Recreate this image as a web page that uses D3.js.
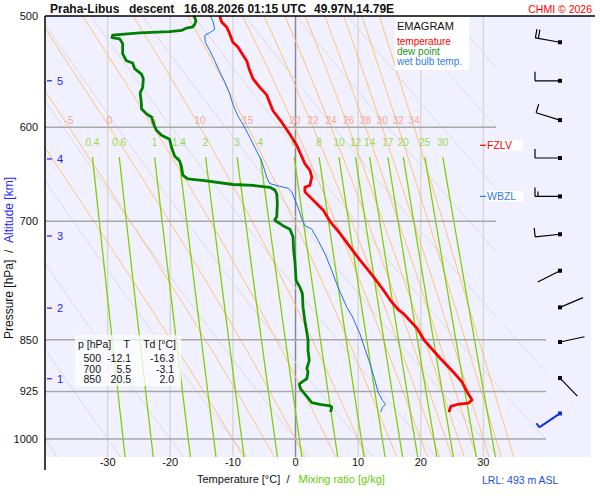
<!DOCTYPE html>
<html>
<head>
<meta charset="utf-8">
<script src="https://cdn.jsdelivr.net/npm/d3@7"></script>
<style>
    body { margin: 0; background: #fff; }
    svg { display: block; font-family: "Liberation Sans", Arial, sans-serif; }
</style>
</head>
<body>
<svg id="chart" width="600" height="500"></svg>
<script>

// Sounding : temperature [hPa, °C]
const tempP = [500, 505, 509, 515, 522, 526, 533, 538, 547, 554, 562, 569, 584, 595, 607, 618, 637, 644, 651, 660, 662, 667, 676, 687, 700, 714, 730, 746, 766, 783, 796, 809, 814, 834, 850, 876, 896, 911, 926, 938, 943, 945, 948, 957];
const tempT = [-12.1, -11.8, -11.0, -10.5, -10.0, -9.2, -8.4, -7.8, -7.3, -6.8, -5.7, -4.6, -3.6, -2.2, -0.9, 0.2, 1.5, 2.3, 2.6, 2.3, 1.5, 1.5, 2.8, 4.4, 5.5, 7.1, 8.7, 10.3, 12.4, 14.0, 15.1, 16.4, 17.2, 19.4, 20.5, 23.1, 25.2, 26.6, 27.4, 28.2, 27.6, 25.8, 24.8, 24.5];

// Sounding : dew point
const dewP = [500, 501, 504, 507, 509, 510, 512, 513, 514, 516, 518, 519, 523, 532, 538, 540, 545, 550, 554, 562, 567, 578, 582, 587, 590, 599, 603, 608, 612, 620, 629, 634, 640, 649, 653, 655, 659, 660, 662, 665, 669, 680, 695, 698, 700, 702, 705, 709, 718, 734, 747, 771, 780, 788, 806, 824, 850, 865, 879, 891, 896, 906, 911, 914, 921, 929, 942, 945, 947, 949, 957];
const dewT = [-16.3, -16.1, -15.9, -16.1, -16.4, -17.4, -18.2, -20.1, -24.9, -29.2, -29.3, -28.1, -27.6, -27.6, -27.0, -26.0, -25.7, -24.6, -24.3, -24.4, -24.8, -24.6, -24.6, -23.8, -23.0, -22.5, -22.2, -21.4, -20.1, -19.8, -19.3, -18.5, -18.2, -18.0, -17.2, -14.2, -10.0, -6.8, -4.1, -3.3, -3.0, -2.9, -3.0, -3.3, -3.1, -2.6, -2.0, -0.9, -0.4, -0.3, -0.1, 0.1, 0.7, 1.1, 1.2, 1.5, 2.0, 2.0, 2.2, 1.8, 2.0, 1.8, 1.0, 0.6, 0.8, 1.5, 2.6, 3.9, 5.5, 5.8, 5.6];

// Sounding : wet bulb temperature
const wetP = [500, 504, 511, 514, 516, 522, 529, 538, 548, 557, 568, 578, 589, 597, 610, 624, 634, 651, 658, 661, 663, 667, 684, 697, 705, 709, 722, 738, 759, 780, 806, 817, 842, 863, 884, 909, 926, 939, 945, 949, 957];
const wetT = [-13.6, -13.2, -12.9, -13.7, -14.5, -14.4, -13.7, -12.9, -12.1, -11.3, -10.5, -10.0, -9.2, -8.4, -7.3, -6.2, -5.4, -4.6, -4.1, -2.5, -1.2, -0.6, 0.4, 1.0, 1.5, 2.6, 3.6, 4.7, 5.8, 6.8, 8.2, 9.0, 10.3, 11.1, 11.9, 12.7, 13.2, 13.9, 14.4, 13.9, 13.6];

// Axes and diagram lines
const pressureTicks = [500, 600, 700, 850, 925, 1000];
const temperatureTicks = [-30, -20, -10, 0, 10, 20, 30];
const dryAdiabats = [-40, -30, -20, -10, 0, 10, 20, 30, 40, 50, 60, 70, 80, 90, 100];
const moistAdiabats = [-10, -5, 0, 5, 10, 15, 20, 22, 24, 26, 28, 30, 32, 34];
const moistLabels = [-5, 0, 5, 10, 15, 20, 22, 24, 26, 28, 30, 32, 34];
const mixingRatios = [0.4, 0.6, 1, 1.4, 2, 3, 4, 6, 8, 10, 12, 14, 17, 20, 25, 30];

// Altitude scale [km] at pressure [hPa]
const altKm = [1, 2, 3, 4, 5];
const altP = [906, 807, 717, 632, 556];

// Wind every 500 m
const windP = [522, 556, 593, 631, 672, 715, 759, 806, 853, 905, 959];
const windDir = [280, 270, 287, 270, 270, 264, 243, 67, 78, 136, 236];
const windSpd = [20, 10, 10, 10, 15, 10, 2, 2, 2, 2, 5];

// Table
const tableP = [500, 700, 850];
const tableT = [-12.1, 5.5, 20.5];
const tableTd = [-16.3, -3.1, 2.0];

// Levels
const levelNames = ["FZLV", "WBZL"];
const levelP = [618, 672];
const stationHeight = 493;

const pTop = 500, pBottom = 1030;

const svg = d3.select("#chart");

const x = d3.scaleLinear().domain([-40, 40]).range([45, 546]);
const y = d3.scaleLog().domain([500, 1000]).range([16, 439]);

const line = d3.line().x(d => x(d[1])).y(d => y(d[0]));

/*
|--------------------------------------------------------------------------
| Thermodynamics for the diagram lines
|--------------------------------------------------------------------------
*/

const Rd = 287.04, Cp = 1005.7, Lv = 2.501e6, eps = 0.622;

function es(tc) {
    return 6.112 * Math.exp(17.67 * tc / (tc + 243.5));
}

function dTdp(tk, p) {
    let e = es(tk - 273.15);
    let rs = eps * e / (p - e);
    return (Rd * tk + Lv * rs) / (p * (Cp + Lv * Lv * rs * eps / (Rd * tk * tk)));
}

function moistLine(thw) {
    let up = [[1000, thw]];
    let t = thw + 273.15;
    for (let p = 1000; p > pTop; p -= 2) {
        let k1 = dTdp(t, p);
        let k2 = dTdp(t - 2 * k1, p - 2);
        t = t - (k1 + k2);
        up.push([p - 2, t - 273.15]);
    }
    let down = [];
    t = thw + 273.15;
    for (let p = 1000; p < pBottom; p += 2) {
        let k1 = dTdp(t, p);
        let k2 = dTdp(t + 2 * k1, p + 2);
        t = t + (k1 + k2);
        down.push([p + 2, t - 273.15]);
    }
    return up.reverse().concat(down);
}

function dryLine(theta) {
    return d3.range(pTop, pBottom + 1, 10).map(p => [p, (theta + 273.15) * Math.pow(p / 1000, 0.2857) - 273.15]);
}

function mixingT(w, p) {
    let e = w * p / (622 + w);
    let l = Math.log(e / 6.112);
    return 243.5 * l / (17.67 - l);
}

function mixingLine(w) {
    return d3.range(630, pBottom + 1, 10).map(p => [p, mixingT(w, p)]);
}

/*
|--------------------------------------------------------------------------
| Background and clip
|--------------------------------------------------------------------------
*/

svg.append("rect")
.attr("x", 45)
.attr("y", 16)
.attr("width", 546)
.attr("height", y(pBottom) - 16)
.attr("fill", "#f0f0ff");

let clip = d3.path();
clip.moveTo(45, 16);
clip.lineTo(496, 16);
clip.lineTo(496, 324);
clip.lineTo(x(40), 324);
clip.lineTo(x(40), y(pBottom));
clip.lineTo(45, y(pBottom));
clip.closePath();

svg.append("clipPath")
.attr("id", "plot-clip")
.append("path")
.attr("d", clip.toString());

const grid = svg.append("g").attr("clip-path", "url(#plot-clip)");

// Isotherms
grid.selectAll(".isotherm")
.data(temperatureTicks)
.enter()
.append("line")
.attr("x1", d => x(d))
.attr("x2", d => x(d))
.attr("y1", 16)
.attr("y2", y(pBottom))
.attr("stroke", d => d === 0 ? "#8a8a8a" : "#d8d8d8")
.attr("stroke-width", 1.5);

// Dry adiabats
grid.selectAll(".dry")
.data(dryAdiabats)
.enter()
.append("path")
.attr("d", d => line(dryLine(d)))
.attr("fill", "none")
.attr("stroke", "#dcdcdc")
.attr("stroke-width", 1);

// Moist adiabats
grid.selectAll(".moist")
.data(moistAdiabats)
.enter()
.append("path")
.attr("d", d => line(moistLine(d)))
.attr("fill", "none")
.attr("stroke", "#ffc070")
.attr("stroke-width", 1);

// Mixing ratio
grid.selectAll(".mixing")
.data(mixingRatios)
.enter()
.append("path")
.attr("d", d => line(mixingLine(d)))
.attr("fill", "none")
.attr("stroke", "#80d000")
.attr("stroke-width", 1.3);

// Isobars
grid.selectAll(".isobar")
.data(pressureTicks.slice(1))
.enter()
.append("line")
.attr("x1", 45)
.attr("x2", x(40))
.attr("y1", d => y(d))
.attr("y2", d => y(d))
.attr("stroke", "#a8a8a8")
.attr("stroke-width", 1.5);

/*
|--------------------------------------------------------------------------
| Line labels
|--------------------------------------------------------------------------
*/

svg.selectAll(".moist-label")
.data(moistLabels)
.enter()
.append("text")
.attr("x", d => x(moistLine(d).find(q => q[0] === 600)[1]))
.attr("y", y(600) - 3)
.attr("text-anchor", "middle")
.attr("fill", "#f5a898")
.style("font-size", "10px")
.text(d => d);

svg.selectAll(".mixing-label")
.data(mixingRatios)
.enter()
.append("text")
.attr("x", d => x(mixingT(d, 630)))
.attr("y", 145.5)
.attr("text-anchor", "middle")
.attr("fill", "#9ad84a")
.style("font-size", "10px")
.text(d => d);

/*
|--------------------------------------------------------------------------
| Profiles
|--------------------------------------------------------------------------
*/

const profiles = [
    { p: wetP, t: wetT, color: "#1f6ff0", width: 1 },
    { p: dewP, t: dewT, color: "#008000", width: 2.8 },
    { p: tempP, t: tempT, color: "#ff0000", width: 2.8 }
];

profiles.forEach(pr => {
    svg.append("path")
    .attr("d", line(pr.p.map((p, i) => [p, pr.t[i]])))
    .attr("fill", "none")
    .attr("stroke", pr.color)
    .attr("stroke-width", pr.width)
    .attr("stroke-linejoin", "round");
});

/*
|--------------------------------------------------------------------------
| Legend
|--------------------------------------------------------------------------
*/

let legend = svg.append("g");

legend.append("rect")
.attr("x", 395)
.attr("y", 17)
.attr("width", 74)
.attr("height", 53)
.attr("fill", "#fff");

legend.append("text")
.attr("x", 397)
.attr("y", 30)
.attr("fill", "#111")
.style("font-size", "11px")
.text("EMAGRAM");

[["temperature", "#ff0000"], ["dew point", "#1a961a"], ["wet bulb temp.", "#2f7cf0"]].forEach((l, i) => {
    legend.append("text")
    .attr("x", 397)
    .attr("y", 45 + i * 9.8)
    .attr("fill", l[1])
    .style("font-size", "10px")
    .text(l[0]);
});

/*
|--------------------------------------------------------------------------
| Table
|--------------------------------------------------------------------------
*/

let table = svg.append("g").style("font-size", "10.5px").attr("fill", "#111");

table.append("rect")
.attr("x", 75)
.attr("y", 335)
.attr("width", 106)
.attr("height", 51)
.attr("fill", "#fff")
.attr("opacity", 0.75);

table.append("text").attr("x", 78).attr("y", 347.5).text("p [hPa]");
table.append("text").attr("x", 130).attr("y", 347.5).attr("text-anchor", "end").text("T");
table.append("text").attr("x", 176).attr("y", 347.5).attr("text-anchor", "end").text("Td [°C]");

tableP.forEach((p, i) => {
    let ty = 362 + i * 10.5;
    table.append("text").attr("x", 101).attr("y", ty).attr("text-anchor", "end").text(p);
    table.append("text").attr("x", 131).attr("y", ty).attr("text-anchor", "end").text(tableT[i].toFixed(1));
    table.append("text").attr("x", 174).attr("y", ty).attr("text-anchor", "end").text(tableTd[i].toFixed(1));
});

/*
|--------------------------------------------------------------------------
| Freezing / wet bulb zero levels
|--------------------------------------------------------------------------
*/

const levelColors = ["#ff0000", "#2f7cf0"];

levelNames.forEach((name, i) => {
    let ly = y(levelP[i]);
    svg.append("rect")
    .attr("x", 486.5)
    .attr("y", ly - 5.5)
    .attr("width", 36.5)
    .attr("height", 11)
    .attr("fill", "#fff");
    svg.append("line")
    .attr("x1", 480)
    .attr("x2", 486)
    .attr("y1", ly)
    .attr("y2", ly)
    .attr("stroke", levelColors[i])
    .attr("stroke-width", 1.2);
    svg.append("text")
    .attr("x", 487)
    .attr("y", ly + 3.8)
    .attr("fill", levelColors[i])
    .style("font-size", "10.5px")
    .text(name);
});

/*
|--------------------------------------------------------------------------
| Wind barbs
|--------------------------------------------------------------------------
*/

function barb(cx, cy, dir, spd, color, width) {
    let r = dir * Math.PI / 180;
    let dx = Math.sin(r), dy = -Math.cos(r);
    let px = -dy, py = dx;
    let len = 25;
    let path = d3.path();
    path.moveTo(cx, cy);
    path.lineTo(cx + len * dx, cy + len * dy);
    let s = Math.round(spd / 5) * 5;
    let pos = len;
    while (s >= 10) {
        let bx = cx + pos * dx, by = cy + pos * dy;
        path.moveTo(bx, by);
        path.lineTo(bx + 9 * px, by + 9 * py);
        pos -= 3;
        s -= 10;
    }
    if (s >= 5) {
        let bx = cx + pos * dx, by = cy + pos * dy;
        path.moveTo(bx, by);
        path.lineTo(bx + 5 * px, by + 5 * py);
    }
    svg.append("path")
    .attr("d", path.toString())
    .attr("fill", "none")
    .attr("stroke", color)
    .attr("stroke-width", width);
    svg.append("rect")
    .attr("x", cx - 2)
    .attr("y", cy - 2)
    .attr("width", 4)
    .attr("height", 4)
    .attr("fill", color);
}

windP.forEach((p, i) => {
    let surface = i === windP.length - 1;
    barb(560, y(p), windDir[i], windSpd[i], surface ? "#1530d8" : "#000", surface ? 2 : 1.2);
});

/*
|--------------------------------------------------------------------------
| Axes
|--------------------------------------------------------------------------
*/

svg.append("line")
.attr("x1", 45).attr("x2", 595)
.attr("y1", 16).attr("y2", 16)
.attr("stroke", "#000")
.attr("stroke-width", 1.5);

svg.append("line")
.attr("x1", 45).attr("x2", 45)
.attr("y1", 16).attr("y2", 470)
.attr("stroke", "#000")
.attr("stroke-width", 1.5);

svg.selectAll(".p-tick")
.data(pressureTicks)
.enter()
.append("text")
.attr("x", 38)
.attr("y", d => y(d) + 4)
.attr("text-anchor", "end")
.attr("fill", "#111")
.style("font-size", "11px")
.text(d => d);

svg.selectAll(".t-tick")
.data(temperatureTicks)
.enter()
.append("text")
.attr("x", d => x(d))
.attr("y", 466)
.attr("text-anchor", "middle")
.attr("fill", "#111")
.style("font-size", "11px")
.text(d => d);

altKm.forEach((km, i) => {
    let ay = y(altP[i]);
    svg.append("line")
    .attr("x1", 47).attr("x2", 52)
    .attr("y1", ay).attr("y2", ay)
    .attr("stroke", "#1f1fff")
    .attr("stroke-width", 1.2);
    svg.append("text")
    .attr("x", 57)
    .attr("y", ay + 4)
    .attr("fill", "#1f1fff")
    .style("font-size", "11px")
    .text(km);
});

let yTitle = svg.append("text")
.attr("transform", "translate(13,258) rotate(-90)")
.attr("text-anchor", "middle")
.style("font-size", "12px")
.attr("fill", "#111");
yTitle.append("tspan").text("Pressure [hPa]\u00a0\u00a0/\u00a0\u00a0");
yTitle.append("tspan").attr("fill", "#1f1fff").text("Altitude [km]");

let xTitle = svg.append("text")
.attr("x", 197)
.attr("y", 483)
.style("font-size", "11px")
.attr("fill", "#111");
xTitle.append("tspan").text("Temperature [°C]\u00a0\u00a0/\u00a0\u00a0\u00a0");
xTitle.append("tspan").attr("fill", "#66cc00").text("Mixing ratio [g/kg]");

svg.append("text")
.attr("x", 482)
.attr("y", 484)
.attr("fill", "#2050e8")
.style("font-size", "10.5px")
.text(`LRL: ${stationHeight} m ASL`);

/*
|--------------------------------------------------------------------------
| Title
|--------------------------------------------------------------------------
*/

[["Praha-Libus", 50], ["descent", 129], ["16.08.2026 01:15 UTC", 184], ["49.97N,14.79E", 314]].forEach(t => {
    svg.append("text")
    .attr("x", t[1])
    .attr("y", 13)
    .attr("fill", "#111")
    .style("font-size", "12px")
    .style("font-weight", "bold")
    .text(t[0]);
});

svg.append("text")
.attr("x", 592)
.attr("y", 12.5)
.attr("text-anchor", "end")
.attr("fill", "#ff0000")
.style("font-size", "10.5px")
.text("CHMI © 2026");

</script>
</body>
</html>
